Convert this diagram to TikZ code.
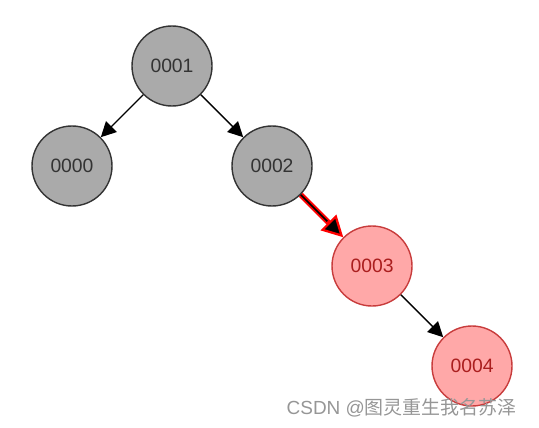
\documentclass[tikz,border=0pt]{standalone}
\usepackage{fontspec}
\setmainfont{Liberation Sans}
\newfontfamily\cjk{Noto Sans CJK SC}
\usepackage{tikz}
\usetikzlibrary{arrows.meta}
\definecolor{blacknode}{RGB}{170, 170, 170}
\definecolor{rednode}{RGB}{255, 168, 168}
\definecolor{redline}{RGB}{200, 60, 60}
\definecolor{redtext}{RGB}{170, 30, 30}
\definecolor{markgray}{RGB}{150, 150, 150}

\begin{document}
\begin{tikzpicture}
			\def\dx{2}
			\def\dy{2}
			\tikzset{
				bnode/.style={circle, draw=black!80, fill=blacknode, thick, minimum size=1.6cm, inner sep=0pt, font=\fontsize{11}{13}\selectfont, text=black!80},
				rnode/.style={circle, draw=redline, fill=rednode, thick, minimum size=1.6cm, inner sep=0pt, font=\fontsize{11}{13}\selectfont, text=redtext},
				edge/.style={-{Triangle[length=0.3cm, width=0.3cm]}, thick, black},
			}
			\useasboundingbox (0,0) rectangle (10.78,8.54);

			% black nodes
			\node[bnode] (n1) at (3.44, 7.22) {0001};
			\node[bnode] (n0) at (3.44-\dx, 7.22-\dy) {0000};
			\node[bnode] (n2) at (3.44+\dx, 7.22-\dy) {0002};
			% red nodes
			\node[rnode] (n3) at (3.44+2*\dx, 7.22-2*\dy) {0003};
			\node[rnode] (n4) at (3.44+3*\dx, 7.22-3*\dy) {0004};

			\draw[edge] (n1) -- (n0);
			\draw[edge] (n1) -- (n2);
			\draw[edge] (n3) -- (n4);
			% highlighted edge
			\draw[red, line width=3.2pt, -{Triangle[fill=black, line width=1.3pt, length=0.42cm, width=0.44cm]}] (n2) -- (n3);
			\draw[black, line width=0.9pt, shorten >=0.45cm] (n2) -- (n3);

			\node[anchor=east, text=markgray, font=\fontsize{10.8}{13}\selectfont] (mark) at (10.46, 0.38) {CSDN @{\cjk 图灵重生我名苏泽}};
		\end{tikzpicture}
\end{document}
